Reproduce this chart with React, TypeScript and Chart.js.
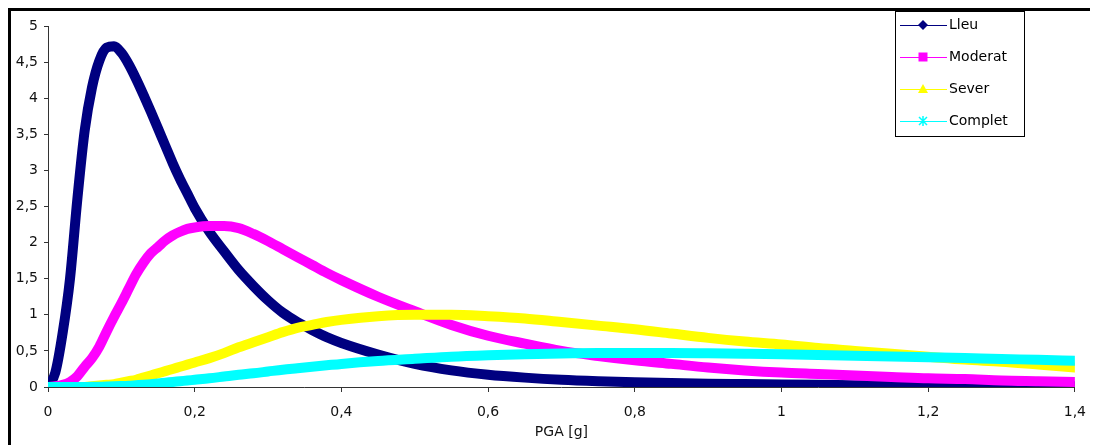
import React, { useEffect, useRef } from "react";
import { Chart, registerables } from "chart.js";

Chart.register(...registerables);

// PGA values [g] (x axis)
const pga = [
  0, 0.01, 0.02, 0.03, 0.04, 0.05, 0.06, 0.07, 0.08, 0.09, 0.1,
  0.11, 0.12, 0.13, 0.14, 0.15, 0.16, 0.17, 0.18, 0.19, 0.2,
  0.22, 0.24, 0.26, 0.28, 0.3, 0.32, 0.34, 0.36, 0.38, 0.4,
  0.45, 0.5, 0.55, 0.6, 0.65, 0.7, 0.75, 0.8, 0.85, 0.9, 0.95, 1.0,
  1.05, 1.1, 1.15, 1.2, 1.25, 1.3, 1.35, 1.4,
];

const seriesNames = ["Lleu", "Moderat", "Sever", "Complet"];

const lleu = [
  0, 0.2, 0.75, 1.5, 2.6, 3.55, 4.15, 4.52, 4.7, 4.72, 4.63,
  4.47, 4.27, 4.05, 3.82, 3.58, 3.34, 3.1, 2.88, 2.68, 2.48,
  2.15, 1.88, 1.62, 1.4, 1.2, 1.03, 0.9, 0.79, 0.69, 0.61,
  0.45, 0.32, 0.23, 0.17, 0.13, 0.1, 0.08, 0.065, 0.055, 0.045, 0.04, 0.035,
  0.03, 0.025, 0.02, 0.018, 0.015, 0.013, 0.011, 0.01,
];

const moderat = [
  0, 0.01, 0.03, 0.07, 0.15, 0.28, 0.4, 0.56, 0.77, 0.97, 1.16,
  1.36, 1.56, 1.72, 1.85, 1.94, 2.03, 2.1, 2.15, 2.19, 2.21,
  2.23, 2.23, 2.2, 2.12, 2.02, 1.91, 1.8, 1.69, 1.58, 1.48,
  1.25, 1.05, 0.86, 0.71, 0.6, 0.5, 0.43, 0.37, 0.32, 0.27, 0.23, 0.2,
  0.18, 0.16, 0.14, 0.12, 0.11, 0.09, 0.08, 0.07,
];

const sever = [
  0, 0, 0, 0, 0, 0, 0.01, 0.02, 0.03, 0.04, 0.06,
  0.08, 0.1, 0.13, 0.16, 0.19, 0.22, 0.25, 0.28, 0.31, 0.34,
  0.4, 0.47, 0.55, 0.62, 0.69, 0.76, 0.82, 0.86, 0.9, 0.93,
  0.98, 1.0, 1.0, 0.98, 0.95, 0.9, 0.85, 0.8, 0.74, 0.68, 0.63, 0.59,
  0.54, 0.5, 0.46, 0.42, 0.38, 0.35, 0.31, 0.27,
];

const complet = [
  0, 0, 0, 0, 0, 0.001, 0.002, 0.004, 0.006, 0.009, 0.013,
  0.018, 0.025, 0.032, 0.04, 0.05, 0.06, 0.07, 0.08, 0.09, 0.1,
  0.12, 0.145, 0.17, 0.19, 0.215, 0.24, 0.26, 0.28, 0.3, 0.32,
  0.36, 0.39, 0.42, 0.44, 0.455, 0.465, 0.47, 0.47, 0.47, 0.466, 0.46, 0.453,
  0.444, 0.434, 0.424, 0.412, 0.4, 0.389, 0.376, 0.365,
];

const seriesValues = [lleu, moderat, sever, complet];
const seriesColors = ["#000080", "#FF00FF", "#FFFF00", "#00FFFF"];
const markerShapes = ["diamond", "square", "triangle", "asterisk"];

const xTitle = "PGA [g]";
const FONT = '"DejaVu Sans", "Liberation Sans", Arial, sans-serif';

function fmt(v: number): string {
  return String(Math.round(v * 10) / 10).replace(".", ",");
}

function drawMarker(ctx: CanvasRenderingContext2D, shape: string, cx: number, cy: number, color: string) {
  ctx.save();
  ctx.fillStyle = color;
  ctx.strokeStyle = color;
  ctx.beginPath();
  if (shape === "diamond") {
    ctx.moveTo(cx, cy - 5);
    ctx.lineTo(cx + 5, cy);
    ctx.lineTo(cx, cy + 5);
    ctx.lineTo(cx - 5, cy);
    ctx.closePath();
    ctx.fill();
  } else if (shape === "square") {
    ctx.rect(cx - 4.5, cy - 4.5, 9, 9);
    ctx.fill();
  } else if (shape === "triangle") {
    ctx.moveTo(cx, cy - 5);
    ctx.lineTo(cx + 5, cy + 4);
    ctx.lineTo(cx - 5, cy + 4);
    ctx.closePath();
    ctx.fill();
  } else {
    ctx.lineWidth = 1.5;
    ctx.moveTo(cx - 4, cy - 4);
    ctx.lineTo(cx + 4, cy + 4);
    ctx.moveTo(cx + 4, cy - 4);
    ctx.lineTo(cx - 4, cy + 4);
    ctx.moveTo(cx, cy - 5);
    ctx.lineTo(cx, cy + 5);
    ctx.stroke();
  }
  ctx.restore();
}

const boxLegend = {
  id: "boxLegend",
  afterDraw(chart: any) {
    const ctx: CanvasRenderingContext2D = chart.ctx;
    const x0 = 884;
    const y0 = 0;
    const w = 130;
    const h = 126;
    ctx.save();
    ctx.fillStyle = "#ffffff";
    ctx.fillRect(x0, y0, w, h);
    ctx.strokeStyle = "#000000";
    ctx.lineWidth = 1;
    ctx.strokeRect(x0 + 0.5, y0 + 0.5, w - 1, h - 1);
    ctx.font = `14px ${FONT}`;
    ctx.textBaseline = "middle";
    ctx.textAlign = "left";
    seriesNames.forEach((name, i) => {
      const y = 14 + i * 32;
      ctx.strokeStyle = seriesColors[i];
      ctx.lineWidth = 1.2;
      ctx.beginPath();
      ctx.moveTo(x0 + 5, y + 0.5);
      ctx.lineTo(x0 + 52, y + 0.5);
      ctx.stroke();
      drawMarker(ctx, markerShapes[i], x0 + 28, y, seriesColors[i]);
      ctx.fillStyle = "#000000";
      ctx.fillText(name, x0 + 54, y);
    });
    ctx.restore();
  },
};

export default function App() {
  const canvasRef = useRef<HTMLCanvasElement | null>(null);

  useEffect(() => {
    document.documentElement.style.overflow = "hidden";
    const canvas = canvasRef.current;
    if (!canvas) return;
    const datasets = seriesNames.map((name, i) => ({
      label: name,
      data: pga.map((x, j) => ({ x, y: seriesValues[i][j] })),
      borderColor: seriesColors[i],
      backgroundColor: seriesColors[i],
      borderWidth: 10,
      pointRadius: 0,
      fill: false,
      cubicInterpolationMode: "monotone" as const,
      borderCapStyle: "round" as const,
      borderJoinStyle: "round" as const,
      order: seriesNames.length - i,
    }));

    const chart = new Chart(canvas, {
      type: "line",
      data: { datasets },
      plugins: [boxLegend],
      options: {
        animation: false,
        responsive: false,
        layout: { padding: { top: 15, right: 13, left: 0, bottom: 0 } },
        plugins: {
          legend: { display: false },
          tooltip: { enabled: false },
          title: { display: false },
        },
        scales: {
          x: {
            type: "linear",
            min: 0,
            max: 1.4,
            afterFit: (s: any) => {
              s.height = 58;
            },
            ticks: {
              stepSize: 0.2,
              padding: 12,
              maxRotation: 0,
              color: "#111",
              font: { family: FONT, size: 14 },
              callback: (v: any) => fmt(Number(v)),
            },
            grid: {
              display: true,
              drawOnChartArea: false,
              drawTicks: true,
              tickLength: 5,
              color: "#333",
            },
            border: { display: true, color: "#333", width: 1 },
            title: {
              display: true,
              text: xTitle,
              color: "#111",
              font: { family: FONT, size: 14 },
              padding: { top: 0, bottom: 4 },
            },
          },
          y: {
            type: "linear",
            min: 0,
            max: 5,
            afterFit: (s: any) => {
              s.width = 37;
            },
            ticks: {
              stepSize: 0.5,
              padding: 6,
              color: "#111",
              font: { family: FONT, size: 14 },
              callback: (v: any) => fmt(Number(v)),
            },
            grid: {
              display: true,
              drawOnChartArea: false,
              drawTicks: true,
              tickLength: 4,
              color: "#333",
            },
            border: { display: true, color: "#333", width: 1 },
          },
        },
      },
    });
    return () => chart.destroy();
  }, []);

  return (
    <div
      style={{
        width: 1087,
        height: 434,
        borderTop: "3px solid #000",
        borderLeft: "3px solid #000",
        background: "#fff",
      }}
    >
      <canvas ref={canvasRef} width={1087} height={434} style={{ display: "block" }} />
    </div>
  );
}
